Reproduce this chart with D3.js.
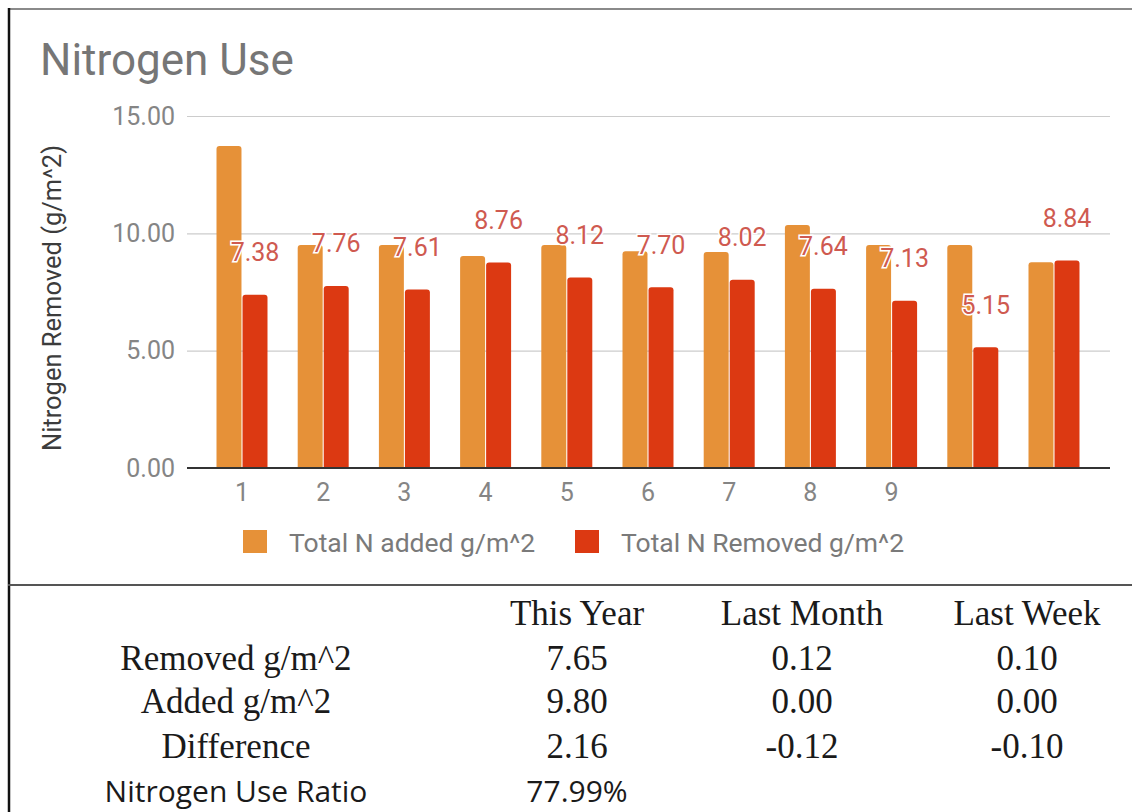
<!DOCTYPE html>
<html>
<head>
<meta charset="utf-8">
<script src="https://cdn.jsdelivr.net/npm/d3@7"></script>
<style>
  body { margin: 0; background: #fff; }
  svg { display: block; }
</style>
</head>
<body>
<div id="chart"></div>
<script>
// chart data
const categories = ['1', '2', '3', '4', '5', '6', '7', '8', '9', '10', '11'];
const tickLabels = ['1', '2', '3', '4', '5', '6', '7', '8', '9', '', ''];
const addedValues = [13.72, 9.5, 9.5, 9.03, 9.5, 9.24, 9.2, 10.35, 9.5, 9.5, 8.77];
const removedValues = [7.38, 7.76, 7.61, 8.76, 8.12, 7.70, 8.02, 7.64, 7.13, 5.15, 8.84];
const seriesNames = ['Total N added g/m^2', 'Total N Removed g/m^2'];
const yTicks = [0, 5, 10, 15];

// summary table
const tableColumns = ['This Year', 'Last Month', 'Last Week'];
const rowLabels = ['Removed g/m^2', 'Added g/m^2', 'Difference'];
const removedRow = ['7.65', '0.12', '0.10'];
const addedRow = ['9.80', '0.00', '0.00'];
const differenceRow = ['2.16', '-0.12', '-0.10'];
const ratioLabel = 'Nitrogen Use Ratio';
const ratioValue = '77.99%';

const colors = ['#e69138', '#dc3912'];
const W = 1132, H = 812;

const svg = d3.select('#chart').append('svg')
  .attr('width', W)
  .attr('height', H);

svg.append('rect').attr('width', W).attr('height', H).attr('fill', '#fff');

// frame lines
svg.append('line').attr('x1', 8).attr('x2', W).attr('y1', 9).attr('y2', 9)
  .attr('stroke', '#8a8a8a').attr('stroke-width', 2);
svg.append('line').attr('x1', 9).attr('x2', 9).attr('y1', 8).attr('y2', H)
  .attr('stroke', '#111').attr('stroke-width', 2.5);
svg.append('line').attr('x1', 8).attr('x2', W).attr('y1', 585).attr('y2', 585)
  .attr('stroke', '#555').attr('stroke-width', 2);

// title
svg.append('text')
  .attr('x', 40).attr('y', 75)
  .style('font-family', 'Roboto, sans-serif')
  .style('font-size', '44px')
  .style('fill', '#767676')
  .text('Nitrogen Use');

const left = 187, right = 1110;
const y = d3.scaleLinear().domain([0, 15]).range([468, 116]);

const x = d3.scaleBand()
  .domain(categories)
  .range([201.4, 1094.6])
  .paddingInner(0.372)
  .paddingOuter(0.186);

const xSeries = d3.scaleBand()
  .domain([0, 1])
  .range([0, x.bandwidth()])
  .paddingInner(0.04);

// y axis + gridlines
const yAxis = svg.append('g')
  .attr('transform', `translate(${left},0)`)
  .call(d3.axisLeft(y)
    .tickValues(yTicks)
    .tickFormat(d3.format('.2f'))
    .tickSize(-(right - left))
    .tickPadding(12));
yAxis.select('.domain').remove();
yAxis.selectAll('line').attr('stroke', '#cccccc').attr('stroke-width', 1.2);
yAxis.selectAll('text')
  .style('font-family', 'Roboto, sans-serif')
  .style('font-size', '25px')
  .style('fill', '#858585');

// y axis title
svg.append('text')
  .attr('transform', 'translate(52,298) rotate(-90)')
  .attr('text-anchor', 'middle')
  .attr('dominant-baseline', 'central')
  .style('font-family', 'Roboto, sans-serif')
  .style('font-size', '25.5px')
  .style('fill', '#3c3c3c')
  .text('Nitrogen Removed (g/m^2)');

// bars
const series = [addedValues, removedValues];
const groups = svg.selectAll('.cat')
  .data(categories)
  .enter().append('g')
  .attr('class', 'cat')
  .attr('transform', d => `translate(${x(d)},0)`);

groups.selectAll('path')
  .data((d, i) => series.map((s, k) => ({ k, v: s[i] })))
  .enter().append('path')
  .attr('fill', d => colors[d.k])
  .attr('d', d => {
    const x0 = xSeries(d.k), w = xSeries.bandwidth();
    const y0 = y(d.v), y1 = y(0), r = 3;
    return `M${x0},${y1}V${y0 + r}Q${x0},${y0} ${x0 + r},${y0}H${x0 + w - r}Q${x0 + w},${y0} ${x0 + w},${y0 + r}V${y1}Z`;
  });

// x axis
const xAxis = svg.append('g')
  .attr('transform', `translate(0,${y(0)})`)
  .call(d3.axisBottom(x)
    .tickFormat((d, i) => tickLabels[i])
    .tickSize(0)
    .tickPadding(15));
xAxis.select('.domain').remove();
xAxis.selectAll('text')
  .style('font-family', 'Roboto, sans-serif')
  .style('font-size', '25px')
  .style('fill', '#858585');

svg.append('line')
  .attr('x1', left).attr('x2', right)
  .attr('y1', y(0)).attr('y2', y(0))
  .attr('stroke', '#333').attr('stroke-width', 2);

// annotations on removed bars
groups.append('text')
  .datum((d, i) => removedValues[i])
  .attr('x', xSeries(1) + xSeries.bandwidth() / 2)
  .attr('y', d => y(d) - 42)
  .attr('text-anchor', 'middle')
  .attr('dominant-baseline', 'central')
  .style('font-family', 'Roboto, sans-serif')
  .style('font-size', '25px')
  .style('fill', '#cf5a50')
  .style('stroke', '#fff')
  .style('stroke-width', 3)
  .style('paint-order', 'stroke')
  .text(d => d.toFixed(2));

// legend
const legendX = [243, 575];
const legend = svg.selectAll('.legend')
  .data(seriesNames)
  .enter().append('g')
  .attr('class', 'legend')
  .attr('transform', (d, i) => `translate(${legendX[i]},530)`);
legend.append('rect')
  .attr('width', 24).attr('height', 23)
  .attr('fill', (d, i) => colors[i]);
legend.append('text')
  .attr('x', 46).attr('y', 22)
  .style('font-family', 'Roboto, sans-serif')
  .style('font-size', '26.5px')
  .style('fill', '#7a7a7a')
  .text(d => d);

// table
const colX = [577, 802, 1027];
const labelX = 236;
const rowY = [670, 713, 758];
const rows = [removedRow, addedRow, differenceRow];
const serif = { 'font-family': '"Liberation Serif", "Times New Roman", serif', 'font-size': '35px', 'fill': '#1a1a1a' };

function serifText(sel) {
  Object.entries(serif).forEach(([k, v]) => sel.style(k, v));
  return sel.attr('text-anchor', 'middle');
}

svg.selectAll('.colhead')
  .data(tableColumns)
  .enter().append('text')
  .attr('class', 'colhead')
  .attr('x', (d, i) => colX[i]).attr('y', 625)
  .call(serifText)
  .text(d => d);

svg.selectAll('.rowlabel')
  .data(rowLabels)
  .enter().append('text')
  .attr('class', 'rowlabel')
  .attr('x', labelX).attr('y', (d, i) => rowY[i])
  .call(serifText)
  .text(d => d);

rows.forEach((row, r) => {
  svg.selectAll('.cell' + r)
    .data(row)
    .enter().append('text')
    .attr('x', (d, i) => colX[i]).attr('y', rowY[r])
    .call(serifText)
    .text(d => d);
});

svg.selectAll('.ratio')
  .data([ratioLabel, ratioValue])
  .enter().append('text')
  .attr('x', (d, i) => i === 0 ? labelX : colX[0]).attr('y', 802)
  .attr('text-anchor', 'middle')
  .style('font-family', '"Open Sans", sans-serif')
  .style('font-size', '30px')
  .style('fill', '#1a1a1a')
  .text(d => d);
</script>
</body>
</html>
